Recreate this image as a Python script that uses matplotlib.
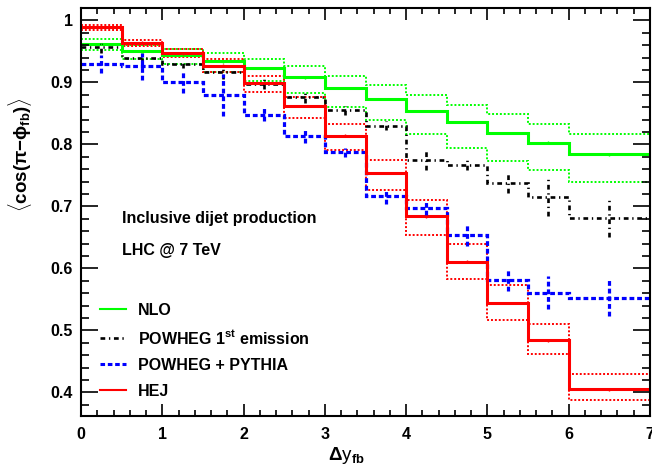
import numpy as np
import matplotlib
matplotlib.use("Agg")
import matplotlib.pyplot as plt
from matplotlib.lines import Line2D

plt.rcParams['font.family'] = ['Liberation Sans', 'DejaVu Sans']
plt.rcParams['font.weight'] = 'bold'
plt.rcParams['mathtext.fontset'] = 'custom'
plt.rcParams['mathtext.rm'] = 'Liberation Sans:bold'
plt.rcParams['mathtext.bf'] = 'Liberation Sans:bold'
plt.rcParams['mathtext.it'] = 'Liberation Sans:bold'
plt.rcParams['mathtext.sf'] = 'Liberation Sans:bold'

# Rapidity-separation bins
edges = [0.0, 0.5, 1.0, 1.5, 2.0, 2.5, 3.0, 3.5, 4.0, 4.5, 5.0, 5.5, 6.0, 7.0]

# NLO: central value and scale-variation band
nlo = [0.962, 0.950, 0.945, 0.934, 0.923, 0.908, 0.891, 0.873, 0.854, 0.836, 0.818, 0.803, 0.784]
nlo_hi = [0.970, 0.960, 0.954, 0.947, 0.938, 0.926, 0.911, 0.896, 0.879, 0.864, 0.849, 0.833, 0.817]
nlo_lo = [0.952, 0.937, 0.930, 0.916, 0.902, 0.883, 0.861, 0.840, 0.816, 0.795, 0.774, 0.759, 0.740]

# HEJ: central value and scale-variation band
hej = [0.989, 0.964, 0.947, 0.927, 0.899, 0.862, 0.814, 0.754, 0.684, 0.611, 0.544, 0.484, 0.405]
hej_hi = [0.992, 0.968, 0.954, 0.937, 0.911, 0.876, 0.833, 0.775, 0.711, 0.639, 0.573, 0.511, 0.429]
hej_lo = [0.985, 0.959, 0.941, 0.917, 0.884, 0.843, 0.791, 0.726, 0.654, 0.583, 0.517, 0.462, 0.387]

# POWHEG first emission, with statistical errors
pw1 = [0.957, 0.940, 0.930, 0.916, 0.897, 0.876, 0.855, 0.830, 0.775, 0.767, 0.737, 0.715, 0.681]
pw1_err = [0.009, 0.008, 0.006, 0.010, 0.008, 0.009, 0.007, 0.007, 0.017, 0.009, 0.015, 0.030, 0.030]

# POWHEG + PYTHIA, with statistical errors
pp = [0.930, 0.926, 0.901, 0.880, 0.848, 0.813, 0.787, 0.716, 0.698, 0.654, 0.582, 0.561, 0.553]
pp_err = [0.015, 0.022, 0.018, 0.034, 0.010, 0.010, 0.007, 0.012, 0.012, 0.018, 0.018, 0.027, 0.030]

labels = ["NLO", "POWHEG 1$^{\\mathbf{st}}$ emission", "POWHEG + PYTHIA", "HEJ"]

GREEN = "#00ff00"
RED = "#ff0000"
BLUE = "#0000ff"
BLACK = "#000000"

DOT = (0, (1.0, 1.0))
DASHDOT = (0, (1.8, 1.4, 0.5, 1.4))
DASH = (0, (1.5, 0.9))

fig = plt.figure(figsize=(6.52, 4.71), dpi=100)
ax = fig.add_axes([81 / 652, 55 / 471, 569 / 652, 408 / 471])

e = np.asarray(edges)
centers = 0.5 * (e[:-1] + e[1:])

# bands
for hi, lo, col in [(nlo_hi, nlo_lo, GREEN), (hej_hi, hej_lo, RED)]:
    ax.stairs(hi, e, baseline=None, color=col, lw=1.4, ls=DOT)
    ax.stairs(lo, e, baseline=None, color=col, lw=1.4, ls=DOT)

# POWHEG histograms with error bars
ax.stairs(pw1, e, baseline=None, color=BLACK, lw=1.9, ls=DASHDOT)
ax.vlines(centers, np.array(pw1) - np.array(pw1_err), np.array(pw1) + np.array(pw1_err),
          color=BLACK, lw=1.9, ls=DASHDOT)
ax.stairs(pp, e, baseline=None, color=BLUE, lw=2.3, ls=DASH)
ax.vlines(centers, np.array(pp) - np.array(pp_err), np.array(pp) + np.array(pp_err),
          color=BLUE, lw=2.3, ls=DASH)

# central predictions
ax.stairs(nlo, e, baseline=None, color=GREEN, lw=2.2)
ax.vlines(centers, np.array(nlo) - 0.002, np.array(nlo) + 0.002, color=GREEN, lw=1.0)
ax.stairs(hej, e, baseline=None, color=RED, lw=2.2)
ax.vlines(centers, np.array(hej) - 0.002, np.array(hej) + 0.002, color=RED, lw=1.0)

ax.set_xlim(0, 7)
ax.set_ylim(0.362, 1.02)
ax.set_xticks(np.arange(0, 8, 1))
ax.set_xticks(np.arange(0, 7.01, 0.2), minor=True)
ax.set_yticks(np.arange(0.4, 1.001, 0.1))
ax.set_yticks(np.arange(0.38, 1.02, 0.02), minor=True)
ax.set_xticklabels([f"{v:d}" for v in range(8)])
ax.set_yticklabels(["0.4", "0.5", "0.6", "0.7", "0.8", "0.9", "1"])

for s in ax.spines.values():
    s.set_linewidth(1.5)
ax.tick_params(which='both', direction='in', top=True, right=True, width=1.2)
ax.tick_params(axis='x', which='major', length=8.5, pad=8, labelsize=11.5)
ax.tick_params(axis='x', which='minor', length=4.2)
ax.tick_params(axis='y', which='major', length=12, pad=6, labelsize=11.5)
ax.tick_params(axis='y', which='minor', length=6)

ax.set_xlabel(r"$\Delta$y$_{\mathbf{fb}}$", fontsize=13.5)
ax.xaxis.label.set_va('center')
ax.xaxis.set_label_coords(0.467, -0.098)
ax.set_ylabel(r"$\langle\mathbf{cos}\left(\pi\mathbf{-}\phi_{\mathbf{fb}}\right)\rangle$",
              fontsize=13.5)
ax.yaxis.label.set_va('center')
ax.yaxis.set_label_coords(-0.107, 0.64)

fig.text(122 / 652, 1 - 218 / 471, "Inclusive dijet production", fontsize=11.5,
         fontweight='bold', ha='left', va='center')
fig.text(122 / 652, 1 - 250 / 471, "LHC @ 7 TeV", fontsize=11.5,
         fontweight='bold', ha='left', va='center')

handles = [
    Line2D([], [], color=GREEN, lw=1.5),
    Line2D([], [], color=BLACK, lw=1.9, ls=DASHDOT),
    Line2D([], [], color=BLUE, lw=2.2, ls=DASH),
    Line2D([], [], color=RED, lw=1.5),
]
ax.legend(handles, labels, loc='upper left', bbox_to_anchor=(100 / 652, 1 - 303 / 471),
          bbox_transform=fig.transFigure, frameon=False, fontsize=11.5,
          handlelength=1.6, handletextpad=0.75, labelspacing=0.68,
          borderpad=0, borderaxespad=0)

fig.savefig("out.png", dpi=100)
